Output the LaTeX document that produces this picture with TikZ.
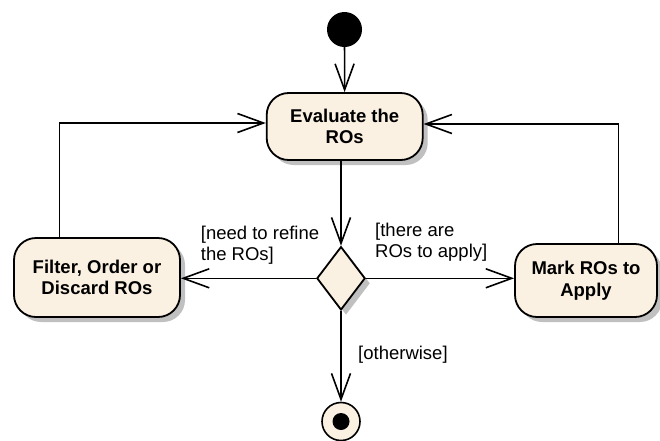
\documentclass[tikz,border=0pt]{standalone}
\usepackage{fontspec}
\setmainfont{Liberation Sans}
\usetikzlibrary{arrows.meta,shapes.geometric,shadows}
\definecolor{actfill}{RGB}{251,241,226}
\definecolor{shadowgray}{RGB}{192,192,192}
\begin{document}
\begin{tikzpicture}[x=1pt,y=-1pt,
  boxshadow/.style={drop shadow={shadow xshift=5pt,shadow yshift=-5pt,fill=shadowgray,opacity=1}},
  action/.style={draw,line width=1.8pt,fill=actfill,rounded corners=22pt,
    align=center,inner sep=0pt,boxshadow,
    font=\bfseries\fontsize{18.5}{21.5}\selectfont},
  decision/.style={draw,line width=1.8pt,fill=actfill,diamond,inner sep=0pt,
    minimum width=48.3pt,minimum height=63.3pt,boxshadow},
  initial/.style={circle,fill=black,inner sep=0pt,minimum size=35pt},
  final/.style={circle,draw,line width=1.6pt,fill=actfill,inner sep=0pt,minimum size=38pt},
  flow/.style={line width=1.6pt,-{Straight Barb[length=26pt,width=19pt]}},
  guard/.style={font=\fontsize{18.5}{21.5}\selectfont,align=left,inner sep=0pt,anchor=base west}]
  \useasboundingbox (0,0) rectangle (660,440);

  % activity nodes
  \node[initial] (start) at (344.5,29.5) {};
  \node[action,minimum width=156pt,minimum height=67pt] (eval) at (344.7,126.5) {Evaluate the\\ROs};
  \node[decision] (dec) at (341,278.3) {};
  \node[action,minimum width=166pt,minimum height=79pt] (filter) at (97,277.5) {Filter, Order or\\Discard ROs};
  \node[action,minimum width=142pt,minimum height=73pt] (mark) at (586,280.5) {Mark ROs to\\Apply};
  \node[final] (end) at (341,421.5) {};
  \fill (end.center) circle (8.5);

  % bend points of the two loops back to the evaluation
  \coordinate (lbend) at (59.3,123);
  \coordinate (rbend) at (618.3,124);

  % control flows
  \draw[flow] (start) -- (eval);
  \draw[flow] (dec.north |- eval.south) -- (dec.north);
  \draw[flow] (dec.west) -- (dec.west -| filter.east);
  \draw[flow] (dec.east) -- (dec.east -| mark.west);
  \draw[flow] (dec.south) -- (end.north);
  \draw[flow] (filter.north -| lbend) |- (eval.west |- lbend);
  \draw[flow] (mark.north -| rbend) |- (eval.east |- rbend);

  % guards (base anchor sits on the last line)
  \node[guard] (grefine) at (200.7,260.5) {[need to refine\\the ROs]};
  \node[guard] (gapply) at (375,257.5) {[there are\\ROs to apply]};
  \node[guard] (gelse) at (358,359) {[otherwise]};
\end{tikzpicture}
\end{document}
